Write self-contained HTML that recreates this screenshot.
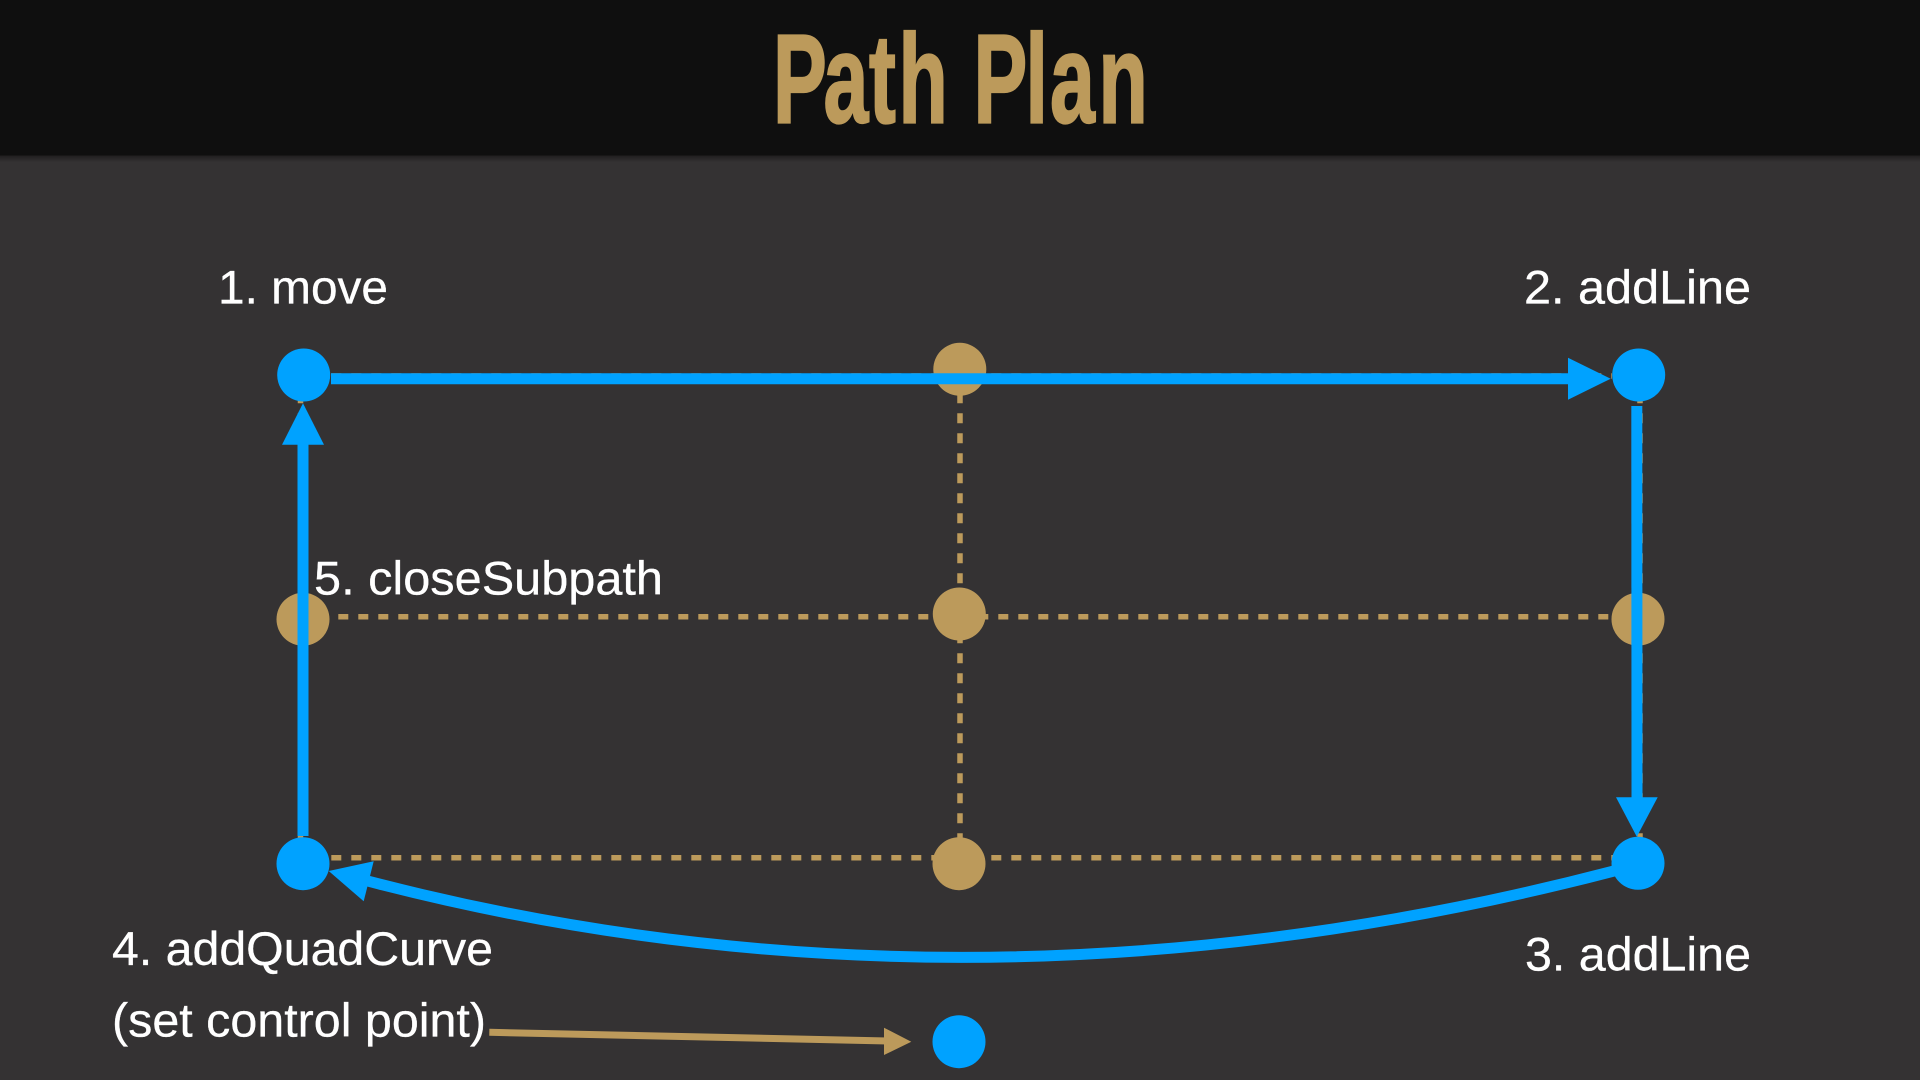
<!DOCTYPE html>
<html lang="en">
<head>
<meta charset="utf-8">
<title>Path Plan</title>
<style>
html,body{margin:0;padding:0;width:1920px;height:1080px;overflow:hidden;background:#343233;}
svg{display:block;position:absolute;left:0;top:0;}
text{font-family:"Liberation Sans",sans-serif;}
.lbl{font-size:47.5px;fill:#ffffff;stroke:#ffffff;stroke-width:0.3;}
.dash{stroke:#bc9a5b;stroke-width:5.5;stroke-dasharray:10 10;fill:none;}
.gold{fill:#bc9a5b;}
.blue{fill:#00a2ff;}
.bl{stroke:#00a2ff;stroke-width:11;fill:none;}
</style>
</head>
<body>
<svg width="1920" height="1080" viewBox="0 0 1920 1080" xmlns="http://www.w3.org/2000/svg">
  <defs>
    <linearGradient id="sh" x1="0" y1="0" x2="0" y2="1">
      <stop offset="0" stop-color="#1e1d1d"/>
      <stop offset="1" stop-color="#343233"/>
    </linearGradient>
  </defs>
  <rect x="0" y="0" width="1920" height="1080" fill="#343233"/>
  <rect x="0" y="155" width="1920" height="7" fill="url(#sh)"/>
  <rect x="0" y="0" width="1920" height="155.5" fill="#0f0f0f"/>
  <text transform="scale(0.64,1)" x="1207.8 1286.7 1357.8 1403.9 1484.4 1521.1 1602.3 1640.6 1716.4" y="122.3" font-size="126" font-weight="700" fill="#bc9a5b" stroke="#bc9a5b" stroke-width="2.2">Path Plan</text>

  <g>
    <line class="dash" x1="331.3" y1="376" x2="1612" y2="376"/>
    <line class="dash" x1="278.3" y1="616.7" x2="1620" y2="616.7"/>
    <line class="dash" x1="311.3" y1="857.7" x2="1620" y2="857.7"/>
    <line class="dash" x1="960" y1="373.3" x2="960" y2="880"/>
    <line class="dash" x1="1640" y1="393.3" x2="1640" y2="850"/>
    <line class="dash" x1="300.5" y1="393.3" x2="300.5" y2="850"/>
  </g>

  <g>
    <circle class="gold" cx="959.8" cy="369.3" r="26.5"/>
    <circle class="gold" cx="303" cy="619.3" r="26.5"/>
    <circle class="gold" cx="959.3" cy="614" r="26.5"/>
    <circle class="gold" cx="1638" cy="619.2" r="26.5"/>
    <circle class="gold" cx="959" cy="863.7" r="26.5"/>
  </g>

  <g>
    <line class="bl" x1="331" y1="378.7" x2="1570" y2="378.7"/>
    <polygon class="blue" points="1568,357.7 1610.7,378.7 1568,399.7"/>
    <line class="bl" x1="1636.8" y1="406" x2="1637" y2="800"/>
    <polygon class="blue" points="1616,797.3 1657.7,797.3 1636.8,836.7"/>
    <path class="bl" d="M1614 871 Q959 1041.7 345 875"/>
    <polygon class="blue" points="328.7,871 373.7,861.3 363.7,901.3"/>
    <line class="bl" x1="303" y1="440" x2="303" y2="836"/>
    <polygon class="blue" points="303,403.3 324,444.7 282,444.7"/>
  </g>

  <g>
    <circle class="blue" cx="303.7" cy="375" r="26.5"/>
    <circle class="blue" cx="1638.7" cy="375" r="26.5"/>
    <circle class="blue" cx="1638" cy="863.3" r="26.5"/>
    <circle class="blue" cx="303" cy="863.7" r="26.5"/>
    <circle class="blue" cx="959" cy="1041.7" r="26.5"/>
  </g>

  <g>
    <line x1="489.3" y1="1032.3" x2="888" y2="1041" stroke="#bc9a5b" stroke-width="7"/>
    <polygon class="gold" points="884,1027.7 911.3,1041.7 884,1055"/>
  </g>

  <g>
    <text class="lbl" x="218" y="303.3" textLength="170" lengthAdjust="spacingAndGlyphs">1. move</text>
    <text class="lbl" x="1524" y="303.3" textLength="227" lengthAdjust="spacingAndGlyphs">2. addLine</text>
    <text class="lbl" x="1525" y="970.7" textLength="226" lengthAdjust="spacingAndGlyphs">3. addLine</text>
    <text class="lbl" x="112" y="965" textLength="381" lengthAdjust="spacingAndGlyphs">4. addQuadCurve</text>
    <text class="lbl" x="112" y="1036.5" textLength="374" lengthAdjust="spacingAndGlyphs">(set control point)</text>
    <text class="lbl" x="314" y="594.3" textLength="349" lengthAdjust="spacingAndGlyphs">5. closeSubpath</text>
  </g>
</svg>
</body>
</html>
